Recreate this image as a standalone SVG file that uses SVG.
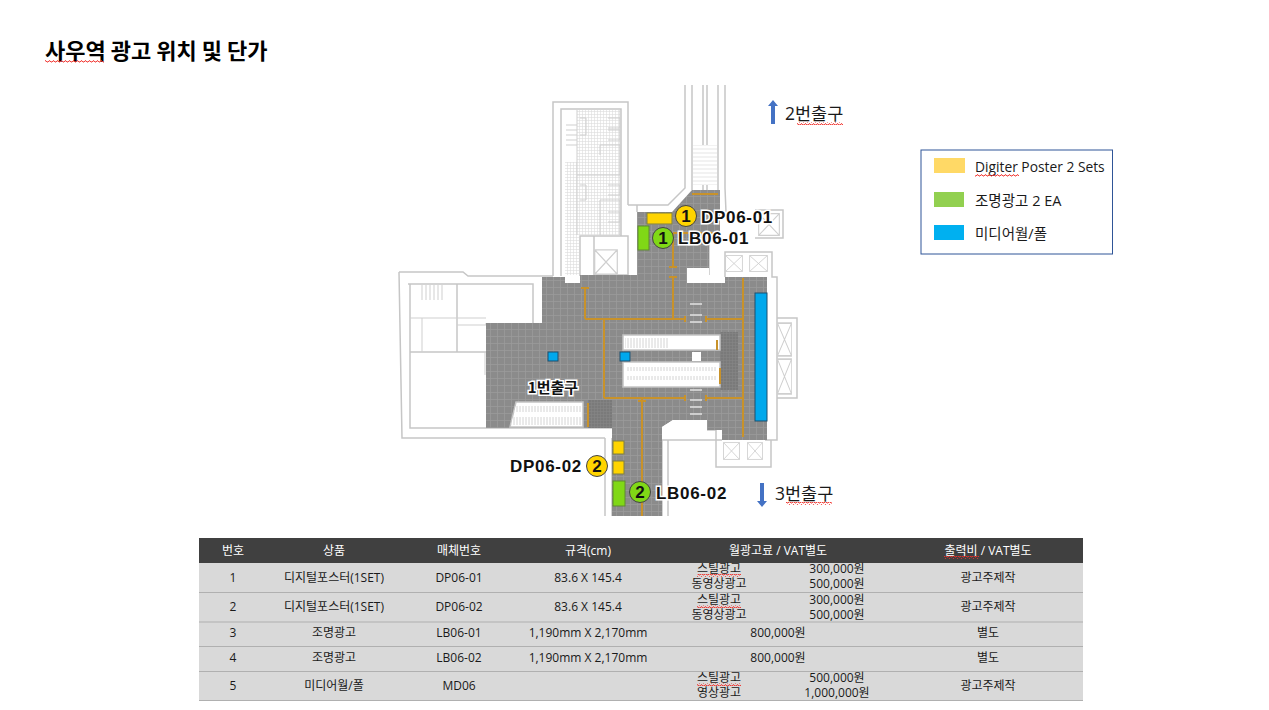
<svg xmlns="http://www.w3.org/2000/svg" width="1269" height="710" viewBox="0 0 1269 710">
<style>
text{font-family:"Open Sans","Noto Sans CJK KR",sans-serif;fill:#1a1a1a}
.t{font-size:12px;text-anchor:middle}
.h{font-size:12px;text-anchor:middle;fill:#fff}
.lg{font-size:14.500px}
.ex{font-size:17.500px}
.lab{font-family:"Liberation Sans",sans-serif;font-weight:700;font-size:17px;letter-spacing:.7px;fill:#111;paint-order:stroke;stroke:#fff;stroke-width:3px}
.num{font-family:"Liberation Sans",sans-serif;font-weight:700;font-size:17px;text-anchor:middle;fill:#111}
.wall{fill:none;stroke:#c6c6c6;stroke-width:1.5}
.thin{fill:none;stroke:#cfcfcf;stroke-width:1}
.or{fill:none;stroke:#c8922a;stroke-width:2}
.y{fill:#ffd400;stroke:#7f7f40;stroke-width:1}
.g{fill:#80d816;stroke:#5f8a30;stroke-width:1}
.b{fill:#00a8ec;stroke:#1d4f6e;stroke-width:1}
.c{stroke:#444;stroke-width:1}
.row{fill:#d9d9d9}
.sep{stroke:#b0b0b0;stroke-width:1.2}
.esc{fill:#fff;stroke:#c4c4c4;stroke-width:1.5}
</style>
<defs>
<pattern id="floor" width="7" height="7" patternUnits="userSpaceOnUse"><rect width="7" height="7" fill="#8b8b8b"/><path d="M0 .5H7M.5 0V7" stroke="#9a9a9a" stroke-width=".8"/></pattern>
<pattern id="mesh" width="3" height="3" patternUnits="userSpaceOnUse"><rect width="3" height="3" fill="#fff"/><path d="M0 .5H3M.5 0V3" stroke="#dcdcdc" stroke-width=".6"/></pattern>
<pattern id="dark" width="3" height="3" patternUnits="userSpaceOnUse"><rect width="3" height="3" fill="#7a7a7a"/><path d="M0 .5H3M.5 0V3" stroke="#868686" stroke-width=".6"/></pattern>
<pattern id="stripe" width="3" height="3" patternUnits="userSpaceOnUse"><rect width="3" height="3" fill="#fff"/><path d="M1 0V3" stroke="#c9c9c9" stroke-width=".8"/></pattern>
<pattern id="hstripe" width="3" height="4" patternUnits="userSpaceOnUse"><rect width="3" height="4" fill="#fff"/><path d="M0 1H3" stroke="#dadada" stroke-width=".7"/></pattern>
<pattern id="wave" width="4" height="3" patternUnits="userSpaceOnUse"><path d="M0 2L1 .8L2 .8L3 2L4 2" fill="none" stroke="#f0302a" stroke-width="1"/></pattern>
<symbol id="x" viewBox="0 0 10 10" preserveAspectRatio="none"><path d="M.3 .3H9.7V9.7H.3ZM.3 .3L9.7 9.7M9.7 .3L.3 9.7" fill="none" stroke="#cfcfcf" stroke-width=".5"/></symbol>
</defs>
<rect width="1269" height="710" fill="#fff"/>
<g id="title"><text x="45" y="59" font-size="22" font-weight="700" style="fill:#000;font-family:'Noto Sans CJK KR',sans-serif">사우역 광고 위치 및 단가</text><rect x="45" y="60" width="59" height="3" fill="url(#wave)"/></g>
<g id="plan">
<path class="wall" d="M553 276V102H628V205M561 276V109H621V236H580V276M399 272H463L468 276H553M399 272L402 438H605M410 284V428H612M408 284H533V323M457 284V352M410 352H486M628 205H668L685 188V85M692 85V190M703 85V190M707 85V190M718 85V190M725 85V188L726 212M637 212V205M709 234V275M594 236H628V275H594V236M725 277V252H772V277H777V440H765M777 318H797V398H777M707 430H716V467H771V440M662 516V440H722M612 516V438M605 516V438M668 516V440M716 440H722M755 210H783V238H755"/>
<rect x="565" y="162" width="14" height="113" fill="url(#mesh)"/>
<rect x="577" y="110" width="43" height="125" fill="url(#mesh)"/>
<path class="thin" d="M577 110V235M620 110V235M577 175H620M600 145H620V175M600 200H620V235M600 145V155M600 200V235M566 125H577M566 130H577M566 135H577M566 140H577M566 145H577M608 118H620V128H608M608 130H620V140H608M608 185H620V195H608M608 212H620V222H608M580 118H586V135H580M580 185H586V200H580"/>
<path class="thin" d="M422 285V300M426 285V300M430 285V300M434 285V300M438 285V300M442 285V300M410 318H486M422 318V352M457 325H486V323M485 352V375"/>
<use href="#x" x="594" y="249" width="24" height="26"/>
<use href="#x" x="758" y="213" width="22" height="23"/>
<use href="#x" x="725" y="255" width="18" height="17"/>
<use href="#x" x="749" y="255" width="19" height="17"/>
<use href="#x" x="723" y="442" width="17" height="18"/>
<use href="#x" x="747" y="442" width="16" height="18"/>
<use href="#x" x="777" y="322" width="15" height="35"/>
<use href="#x" x="777" y="358" width="15" height="37"/>
<rect x="693" y="145" width="24" height="40" fill="url(#hstripe)"/>
<path fill="url(#floor)" d="M637 212H672L692 190H720V233H709V274H687V283H725V277H767V440H722V430H707V420H673L662 427V516H612V438H612V428H486V323H542V277H565V283H580V275H637Z"/>
<path fill="#fff" d="M687 268H709V283H687Z"/>
<rect x="720" y="332" width="18" height="58" fill="url(#dark)"/>
<rect x="588" y="400" width="24" height="28" fill="url(#dark)"/>
<rect x="623" y="335" width="97" height="15" class="esc"/>
<rect x="625" y="338" width="44" height="10" fill="url(#stripe)"/>
<rect x="623" y="362" width="97" height="25" class="esc"/>
<rect x="626" y="367" width="90" height="4" fill="url(#stripe)"/>
<rect x="626" y="376" width="90" height="4" fill="url(#stripe)"/>
<rect x="692" y="352" width="9" height="9" fill="#fff"/>
<path class="esc" d="M516 402H583V427H510Z"/>
<path d="M516 406H582V412H514ZM513 417H582V425H511Z" fill="url(#stripe)"/>
<path fill="#fff" d="M662 427L673 420H707V430H662Z"/>
<path d="M690 304H702M690 315H702M690 322H702M690 390H702M690 400H702M690 407H702M690 414H702" stroke="#e2e2e2" stroke-width="1.6"/>
<text x="553" y="393" font-size="15" font-weight="700" text-anchor="middle" style="fill:#111;paint-order:stroke;stroke:#fff;stroke-width:3px;font-family:'Noto Sans CJK KR',sans-serif">1번출구</text>
</g>
<g id="connectors">
<path class="or" d="M692 194H718M673 233H720M673 233V267M669 267H677M669 277H677M673 277V319M585 288V319M581 288H589M585 319H685M685 316V322M706 316V322M706 319H743M743 278V437M604 319V398M604 398H685M685 395V401M706 395V401M706 398H743M642 398V516M638 401H646M588 403V427M717 340V350M720 368V384"/>
</g>
<g id="DP06-01"><rect class="y" x="647" y="213" width="25" height="11"/><circle class="y c" cx="686" cy="216" r="10.500"/><text class="num" x="686" y="222">1</text><text class="lab" x="701" y="223">DP06-01</text></g>
<g id="LB06-01"><rect class="g" x="638" y="226" width="11" height="24"/><circle class="g c" cx="663" cy="238" r="10.500"/><text class="num" x="663" y="244">1</text><text class="lab" x="678" y="244">LB06-01</text></g>
<g id="DP06-02"><rect class="y" x="613" y="441" width="11" height="13"/><rect class="y" x="613" y="461" width="11" height="13"/><circle class="y c" cx="597" cy="466" r="10.500"/><text class="num" x="597" y="472">2</text><text class="lab" x="510" y="472">DP06-02</text></g>
<g id="LB06-02"><rect class="g" x="613" y="481" width="12" height="25"/><circle class="g c" cx="640" cy="492" r="10.500"/><text class="num" x="640" y="498">2</text><text class="lab" x="656" y="499">LB06-02</text></g>
<g id="media"><rect class="b" x="755" y="293" width="12" height="128"/><rect class="b" x="548" y="352" width="10" height="9"/><rect class="b" x="620" y="352" width="10" height="9"/></g>
<g id="exit2"><path fill="#4472c4" d="M771 124V106H768L773 100L778 106H775V124Z"/><text class="ex" x="785" y="120">2번출구</text><rect x="797" y="122" width="46" height="3" fill="url(#wave)"/></g>
<g id="exit3"><path fill="#4472c4" d="M760 483V501H757L762 507L767 501H764V483Z"/><text class="ex" x="775" y="500">3번출구</text><rect x="786" y="502" width="46" height="3" fill="url(#wave)"/></g>
<g id="legend">
<rect x="921" y="150" width="191.500" height="104" fill="#fff" stroke="#2f5597" stroke-width="1"/>
<rect x="934" y="158" width="31" height="15" fill="#ffd966"/>
<rect x="934" y="192" width="30" height="15" fill="#92d050"/>
<rect x="934" y="225" width="30" height="15" fill="#00b0f0"/>
<text class="lg" x="975" y="172" style="font-size:13.800px">Digiter Poster 2 Sets</text><rect x="975" y="174" width="44" height="3" fill="url(#wave)"/>
<text class="lg" x="975" y="206">조명광고 2 EA</text>
<text class="lg" x="975" y="239">미디어월/폴</text>
</g>
<g id="table">
<rect x="199" y="538" width="884" height="25" fill="#404040"/>
<rect class="row" x="199" y="563" width="884" height="138"/>
<path class="sep" d="M199 592.500H1083M199 622H1083M199 646.500H1083M199 671.500H1083M199 700.500H1083"/>
<text class="h" x="233" y="555">번호</text><text class="h" x="334" y="555">상품</text><text class="h" x="459" y="555">매체번호</text><text class="h" x="588" y="555">규격(cm)</text><text class="h" x="778" y="555">월광고료 / VAT별도</text><text class="h" x="988" y="555">출력비 / VAT별도</text>
<rect x="944" y="556" width="35" height="3" fill="url(#wave)"/>
<text class="t" x="233" y="582">1</text><text class="t" x="334" y="582">디지털포스터(1SET)</text><text class="t" x="459" y="582">DP06-01</text><text class="t" x="588" y="582">83.6 X 145.4</text>
<text class="t" x="719" y="573">스틸광고</text><text class="t" x="719" y="588">동영상광고</text><text class="t" x="837" y="573">300,000원</text><text class="t" x="837" y="588">500,000원</text><text class="t" x="988" y="582">광고주제작</text>
<text class="t" x="233" y="611">2</text><text class="t" x="334" y="611">디지털포스터(1SET)</text><text class="t" x="459" y="611">DP06-02</text><text class="t" x="588" y="611">83.6 X 145.4</text>
<text class="t" x="719" y="604">스틸광고</text><text class="t" x="719" y="619">동영상광고</text><text class="t" x="837" y="604">300,000원</text><text class="t" x="837" y="619">500,000원</text><text class="t" x="988" y="611">광고주제작</text>
<text class="t" x="233" y="637">3</text><text class="t" x="334" y="637">조명광고</text><text class="t" x="459" y="637">LB06-01</text><text class="t" x="588" y="637">1,190mm X 2,170mm</text><text class="t" x="778" y="637">800,000원</text><text class="t" x="988" y="637">별도</text>
<text class="t" x="233" y="662">4</text><text class="t" x="334" y="662">조명광고</text><text class="t" x="459" y="662">LB06-02</text><text class="t" x="588" y="662">1,190mm X 2,170mm</text><text class="t" x="778" y="662">800,000원</text><text class="t" x="988" y="662">별도</text>
<text class="t" x="233" y="690">5</text><text class="t" x="334" y="690">미디어월/폴</text><text class="t" x="459" y="690">MD06</text>
<text class="t" x="719" y="682">스틸광고</text><text class="t" x="719" y="697">영상광고</text><text class="t" x="837" y="682">500,000원</text><text class="t" x="837" y="697">1,000,000원</text><text class="t" x="988" y="690">광고주제작</text>
<rect x="697" y="574" width="44" height="3" fill="url(#wave)"/><rect x="697" y="605" width="44" height="3" fill="url(#wave)"/><rect x="697" y="683" width="44" height="3" fill="url(#wave)"/>
</g>
</svg>
